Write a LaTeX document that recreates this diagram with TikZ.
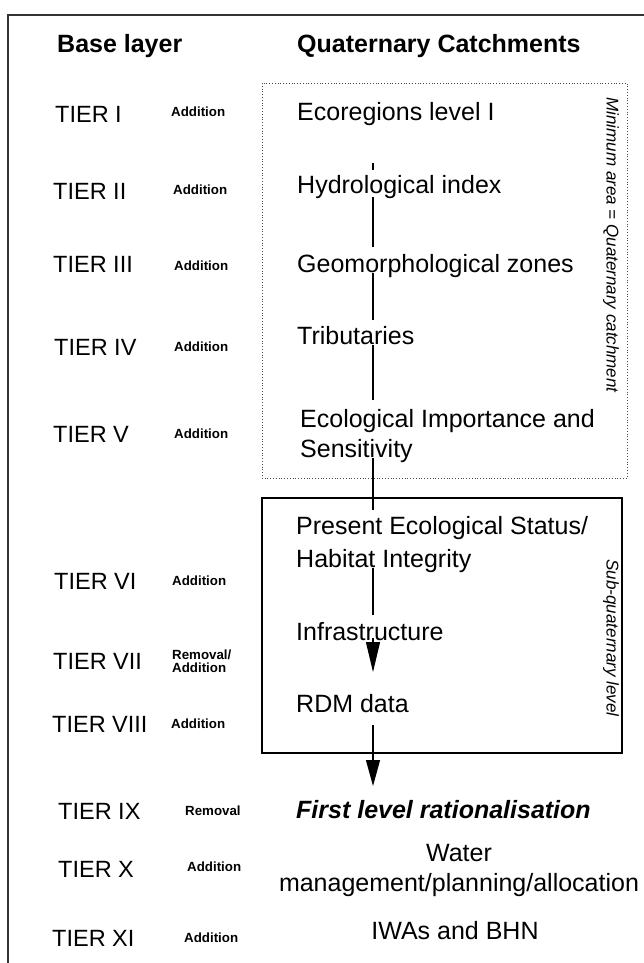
\documentclass[tikz,border=0pt]{standalone}
\usepackage{fontspec}
\setmainfont{Liberation Sans}
\usetikzlibrary{arrows.meta}

\tikzset{
  tier/.style={anchor=base west, inner sep=0pt, font=\fontsize{23.5}{26}\selectfont},
  action/.style={anchor=base west, inner sep=0pt, font=\bfseries\fontsize{13.3}{15}\selectfont, align=left},
  layer/.style={anchor=base west, inner sep=0pt, font=\fontsize{25}{32}\selectfont, align=left},
  heading/.style={anchor=base west, inner sep=0pt, font=\bfseries\fontsize{25}{28}\selectfont},
  sidenote/.style={inner sep=0pt, rotate=-90, font=\itshape\fontsize{17}{20}\selectfont},
  spine/.style={line width=1.1pt},
  flow/.style={line width=1.1pt, -{Triangle[length=30pt,width=14pt]}},
}

\begin{document}
\begin{tikzpicture}[x=1pt, y=-1pt]
\useasboundingbox (0,0) rectangle (644,963);

% outer frame (continues past the page on the right and bottom)
\draw[line width=1.6pt, black!80] (8,980) -- (8,15) -- (670,15);

% headings
\node[heading] (hbase) at (57,53) {Base layer};
\node[heading] (hquat) at (297,53) {Quaternary Catchments};

% grouping boxes
\draw[dotted, line width=0.8pt, black!70] (262,83) rectangle (627,478);
\draw[line width=1.2pt] (262,498) rectangle (622,753);
\node[sidenote] (minarea) at (611,245) {Minimum area = Quaternary catchment};
\node[sidenote] (subq) at (611,638) {Sub-quaternary level};

% tier labels
\node[tier] (t1) at (55,122) {TIER I};
\node[tier] (t2) at (53,199) {TIER II};
\node[tier] (t3) at (53,272) {TIER III};
\node[tier] (t4) at (54,355) {TIER IV};
\node[tier] (t5) at (53,442) {TIER V};
\node[tier] (t6) at (54,589) {TIER VI};
\node[tier] (t7) at (53,669) {TIER VII};
\node[tier] (t8) at (52,732) {TIER VIII};
\node[tier] (t9) at (58,819) {TIER IX};
\node[tier] (t10) at (58,877) {TIER X};
\node[tier] (t11) at (52,946) {TIER XI};

% operation applied at each tier (multi-line nodes sit on their last line)
\node[action] (a1) at (171,117) {Addition};
\node[action] (a2) at (173,194) {Addition};
\node[action] (a3) at (174,270) {Addition};
\node[action] (a4) at (174,351) {Addition};
\node[action] (a5) at (174,438) {Addition};
\node[action] (a6) at (172,585) {Addition};
\node[action] (a7) at (172,672) {Removal/\\[-2pt]Addition};
\node[action] (a8) at (171,728) {Addition};
\node[action] (a9) at (185,815) {Removal};
\node[action] (a10) at (187,871) {Addition};
\node[action] (a11) at (184,942) {Addition};

% catchment layers
\node[layer] (l1) at (297,121) {Ecoregions level I};
\node[layer] (l2) at (297,193) {Hydrological index};
\node[layer] (l3) at (297,272) {Geomorphological zones};
\node[layer] (l4) at (297,344) {Tributaries};
\node[layer, font=\fontsize{25}{30}\selectfont] (l5) at (300,457) {Ecological Importance and\\Sensitivity};
\node[layer, font=\fontsize{25}{33}\selectfont] (l6) at (296,567) {Present Ecological Status/\\Habitat Integrity};
\node[layer] (l7) at (296,640) {Infrastructure};
\node[layer] (l8) at (296,712) {RDM data};
\node[layer, font=\bfseries\itshape\fontsize{25}{28}\selectfont] (l9) at (296,818) {First level rationalisation};
\node[layer, anchor=base, align=center, font=\fontsize{25}{30}\selectfont] (l10) at (459,891) {Water\\management/planning/allocation};
\node[layer, anchor=base] (l11) at (455,939) {IWAs and BHN};

% points along the flow line
\coordinate (p1a) at (373,163); \coordinate (p1b) at (373,170);
\coordinate (p2a) at (373,197); \coordinate (p2b) at (373,247);
\coordinate (p3a) at (373,273); \coordinate (p3b) at (373,320);
\coordinate (p4a) at (373,345); \coordinate (p4b) at (373,400);
\coordinate (p5a) at (373,458); \coordinate (p5b) at (373,510);
\coordinate (p6a) at (373,568); \coordinate (p6b) at (373,615);
\coordinate (p7a) at (373,638); \coordinate (p7b) at (373,672);
\coordinate (p8a) at (373,725); \coordinate (p8b) at (373,786);

% flow line between the layers
\draw[spine] (p1a) -- (p1b);
\draw[spine] (p2a) -- (p2b);
\draw[spine] (p3a) -- (p3b);
\draw[spine] (p4a) -- (p4b);
\draw[spine] (p5a) -- (p5b);
\draw[spine] (p6a) -- (p6b);
\draw[flow] (p7a) -- (p7b);
\draw[flow, -{Triangle[length=26pt,width=14pt]}] (p8a) -- (p8b);
\end{tikzpicture}
\end{document}
